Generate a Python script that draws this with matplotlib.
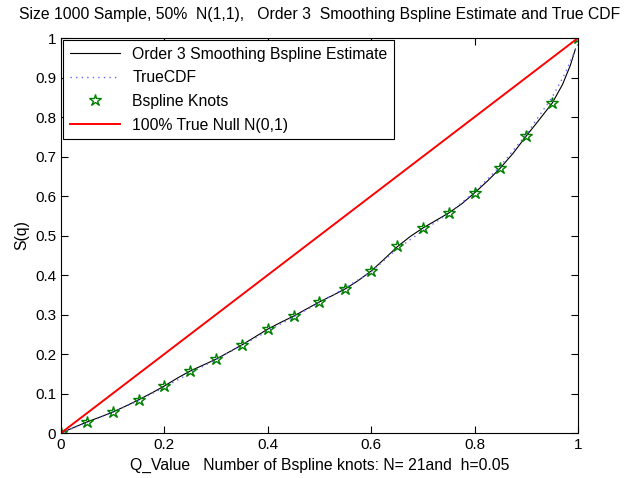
import matplotlib
matplotlib.use('Agg')
import matplotlib.pyplot as plt
import numpy as np

plt.rcParams['font.family'] = ['Liberation Sans', 'DejaVu Sans']

# B-spline knots
knot_q = [0.0, 0.05, 0.10, 0.15, 0.20, 0.25, 0.30, 0.35, 0.40, 0.45, 0.50,
          0.55, 0.60, 0.65, 0.70, 0.75, 0.80, 0.85, 0.90, 0.95, 1.0]
knot_s = [0.0, 0.028, 0.053, 0.084, 0.119, 0.157, 0.187, 0.223, 0.263, 0.296, 0.332,
          0.365, 0.410, 0.473, 0.519, 0.557, 0.608, 0.671, 0.752, 0.835, 1.0]

# smoothing spline estimate
est_q = [0.0, 0.025, 0.05, 0.075, 0.10, 0.125, 0.15, 0.175, 0.20, 0.225, 0.25, 0.275,
         0.30, 0.325, 0.35, 0.375, 0.40, 0.425, 0.45, 0.475, 0.50, 0.525, 0.55, 0.575,
         0.60, 0.625, 0.65, 0.675, 0.70, 0.725, 0.75, 0.775, 0.80, 0.825, 0.85, 0.875,
         0.90, 0.925, 0.95, 0.97, 0.985, 0.995]
est_s = [0.0, 0.014, 0.028, 0.040, 0.053, 0.068, 0.084, 0.101, 0.119, 0.139, 0.157, 0.172,
         0.187, 0.205, 0.223, 0.243, 0.263, 0.280, 0.296, 0.314, 0.332, 0.348, 0.365, 0.386,
         0.410, 0.440, 0.471, 0.497, 0.519, 0.538, 0.557, 0.580, 0.608, 0.638, 0.671, 0.709,
         0.752, 0.793, 0.835, 0.882, 0.930, 0.972]

# true CDF
cdf_q = [0.0, 0.05, 0.10, 0.15, 0.20, 0.25, 0.30, 0.35, 0.40, 0.45, 0.50, 0.55, 0.60,
         0.65, 0.70, 0.75, 0.80, 0.85, 0.90, 0.95, 0.975, 1.0]
cdf_s = [0.0, 0.026, 0.052, 0.082, 0.116, 0.152, 0.186, 0.222, 0.258, 0.294, 0.330, 0.368,
         0.408, 0.466, 0.512, 0.556, 0.610, 0.676, 0.756, 0.850, 0.910, 0.985]

null_q = [0.0, 1.0]
null_s = [0.0, 1.0]

fig = plt.figure(figsize=(6.26, 4.78), dpi=100)
ax = fig.add_axes([0.0974, 0.0941, 0.8259, 0.8264])

ax.plot(est_q, est_s, color='black', lw=0.8, label='Order 3 Smoothing Bspline Estimate')
ax.plot(cdf_q, cdf_s, color='#6666ff', lw=1.0, ls=(0, (1, 3)), label='TrueCDF')
ax.plot(knot_q, knot_s, ls='none', marker='*', ms=9, mfc='none', mec='green',
        mew=1.0, label='Bspline Knots')
ax.plot(null_q, null_s, color='red', lw=1.4, label='100% True Null N(0,1)')

ax.set_xlim(0, 1)
ax.set_ylim(0, 1)
ax.set_xticks(np.arange(0, 1.01, 0.2))
ax.set_xticklabels(['0', '0.2', '0.4', '0.6', '0.8', '1'])
ax.set_yticks(np.arange(0, 1.01, 0.1))
ax.set_yticklabels(['0', '0.1', '0.2', '0.3', '0.4', '0.5', '0.6', '0.7', '0.8', '0.9', '1'])
ax.tick_params(direction='in', top=True, right=True, labelsize=11, length=5)

ax.set_title('Size 1000 Sample, 50%  N(1,1),   Order 3  Smoothing Bspline Estimate and True CDF',
             fontsize=11.3, pad=14)
ax.set_xlabel('Q_Value   Number of Bspline knots: N= 21and  h=0.05', fontsize=11.3)
ax.set_ylabel('S(q)', fontsize=11.3)

leg = ax.legend(loc='upper left', fontsize=11.3, fancybox=False, edgecolor='black',
                framealpha=1, borderaxespad=0.15, handlelength=3.2, labelspacing=0.55,
                borderpad=0.4)
leg.get_frame().set_linewidth(0.8)

plt.savefig('out.png')
